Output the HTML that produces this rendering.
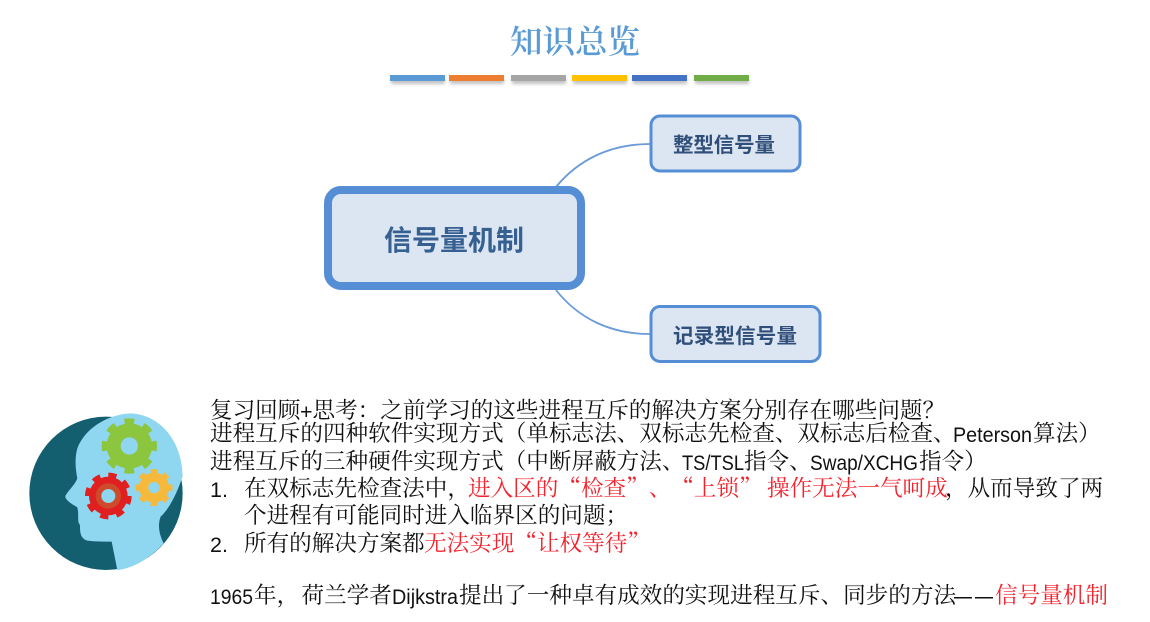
<!DOCTYPE html>
<html lang="zh-CN"><head><meta charset="utf-8"><title>知识总览</title>
<style>
html,body{margin:0;padding:0;background:#fff;width:1150px;height:622px;overflow:hidden}
svg{display:block}
text{text-spacing-trim:space-all;text-autospace:no-autospace}
.c{font-family:"Noto Serif CJK SC",serif;font-size:22.6px;fill:#111}
.l{font-family:"Liberation Sans","Noto Sans CJK SC",sans-serif;font-size:21.5px;fill:#111}
.r{fill:#f5222d}
.n{font-family:"Liberation Sans","Noto Sans CJK SC",sans-serif;font-weight:700}
</style></head><body>
<svg width="1150" height="622" viewBox="0 0 1150 622" xmlns="http://www.w3.org/2000/svg">
<defs><filter id="s" x="-10%" y="-60%" width="120%" height="260%"><feGaussianBlur stdDeviation="1.5"/></filter></defs>
<text x="510" y="53" textLength="130" font-family="'Noto Serif CJK SC',serif" font-size="32.5" font-weight="600" fill="#5b9bd5">知识总览</text>

<g fill="#999" opacity=".6" filter="url(#s)">
<rect x="391" y="78" width="54" height="6"/><rect x="450" y="78" width="54" height="6"/><rect x="512" y="78" width="54" height="6"/><rect x="573" y="78" width="54" height="6"/><rect x="633" y="78" width="54" height="6"/><rect x="695" y="78" width="54" height="6"/>
</g>
<rect x="390" y="75" width="55" height="6" fill="#5b9bd5"/>
<rect x="449" y="75" width="55" height="6" fill="#ed7d31"/>
<rect x="511" y="75" width="55" height="6" fill="#a5a5a5"/>
<rect x="572" y="75" width="55" height="6" fill="#ffc000"/>
<rect x="632" y="75" width="55" height="6" fill="#4472c4"/>
<rect x="694" y="75" width="55" height="6" fill="#70ad47"/>

<path d="M556 187C578 160 610 144 650 144M556 290C578 318 610 334 650 334" fill="none" stroke="#6a9bd8" stroke-width="1.8"/>
<rect x="328" y="190" width="253" height="96" rx="13" fill="#dce6f2" stroke="#558ed5" stroke-width="8"/>
<rect x="651" y="116" width="149" height="55" rx="9" fill="#dce6f2" stroke="#558ed5" stroke-width="3"/>
<rect x="651" y="306.500" width="169" height="55" rx="9" fill="#dce6f2" stroke="#558ed5" stroke-width="3"/>
<text class="n" x="384" y="250" font-size="28" textLength="140" fill="#376092">信号量机制</text>
<text class="n" x="673" y="152" font-size="20.500" textLength="102" fill="#2f4f7a">整型信号量</text>
<text class="n" x="673" y="343" font-size="20.500" textLength="124" fill="#2f4f7a">记录型信号量</text>

<g transform="translate(0,400) scale(.3333)">
<circle cx="318" cy="280" r="230" fill="#135f70"/>
<path d="M352 510L335 425C310 425 285 425 262 422C240 415 240 395 240 375C230 365 238 345 232 322C215 312 195 300 196 288C205 270 225 255 232 235C225 200 225 170 232 145C255 85 320 45 390 40C470 42 545 110 548 228C535 270 510 325 482 350C472 375 478 405 491 430C450 475 400 505 352 510Z" fill="#8fd6f0"/>
<circle cx="388" cy="138" r="74" fill="none" stroke="#8cc63f" stroke-width="18" pathLength="16" stroke-dasharray="1 1" stroke-dashoffset=".5"/>
<circle cx="388" cy="138" r="68" fill="#8cc63f"/><circle cx="388" cy="138" r="26" fill="#8fd6f0"/>
<circle cx="325" cy="288" r="62" fill="none" stroke="#e02020" stroke-width="16" pathLength="16" stroke-dasharray="1 1"/>
<circle cx="325" cy="288" r="58" fill="#e02020"/><circle cx="325" cy="288" r="38" fill="#cf4a2a"/><circle cx="325" cy="288" r="21" fill="#8fd6f0"/>
<circle cx="462" cy="263" r="49" fill="none" stroke="#f6b93b" stroke-width="13" pathLength="16" stroke-dasharray="1 1" stroke-dashoffset=".5"/>
<circle cx="462" cy="263" r="45" fill="#f6b93b"/><circle cx="462" cy="263" r="17" fill="#8fd6f0"/>
</g>

<!-- line 1 -->
<text class="c" x="210" y="418">复习回顾</text><text class="l" x="300" y="419" textLength="12">+</text>
<text class="c" x="312.500" y="418">思考：之前学习的这些进程互斥的解决方案分别存在哪些问题？</text>
<!-- line 2 -->
<text class="c" x="210" y="441">进程互斥的四种软件实现方式（单标志法、双标志先检查、双标志后检查、</text>
<text class="l" x="953" y="442" textLength="79" lengthAdjust="spacingAndGlyphs">Peterson</text>
<text class="c" x="1033" y="441">算法）</text>
<!-- line 3 -->
<text class="c" x="210" y="469">进程互斥的三种硬件实现方式（中断屏蔽方法、</text>
<text class="l" x="682" y="470" textLength="62" lengthAdjust="spacingAndGlyphs">TS/TSL</text>
<text class="c" x="744" y="469">指令、</text>
<text class="l" x="810" y="470" textLength="108" lengthAdjust="spacingAndGlyphs">Swap/XCHG</text>
<text class="c" x="919" y="469">指令）</text>
<!-- line 4 -->
<text class="l" x="210" y="497">1.</text>
<text class="c" x="244" y="496">在双标志先检查法中，</text>
<text class="c r" x="468" y="496">进入区的“检查”、“上锁”</text>
<text class="c r" x="767" y="496">操作无法一气呵成</text>
<text class="c" x="945" y="496">，从而导致了两</text>
<!-- line 5 -->
<text class="c" x="244" y="523">个进程有可能同时进入临界区的问题；</text>
<!-- line 6 -->
<text class="l" x="210" y="552">2.</text>
<text class="c" x="244" y="551">所有的解决方案都</text>
<text class="c r" x="424" y="551">无法实现“让权等待”</text>
<!-- line 8 -->
<text class="l" x="210" y="604" textLength="43" lengthAdjust="spacingAndGlyphs">1965</text>
<text class="c" x="254" y="603">年，</text>
<text class="c" x="301.500" y="603">荷兰学者</text>
<text class="l" x="392" y="604" textLength="66" lengthAdjust="spacingAndGlyphs">Dijkstra</text>
<text class="c" x="459" y="603">提出了一种卓有成效的实现进程互斥、同步的方法</text>
<rect x="954" y="597" width="18" height="1.500" fill="#111"/><rect x="975" y="597" width="18" height="1.500" fill="#111"/>
<text class="c r" x="995" y="603">信号量机制</text>
</svg>
</body></html>
